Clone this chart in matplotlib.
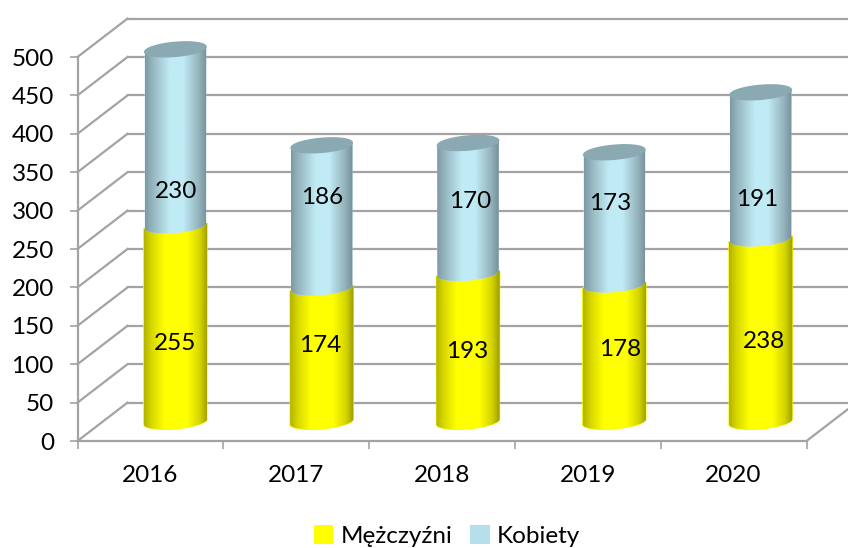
import numpy as np
import matplotlib
matplotlib.use('Agg')
import matplotlib.pyplot as plt
from matplotlib.colors import LinearSegmentedColormap
from matplotlib.patches import Patch, Polygon

years = ['2016', '2017', '2018', '2019', '2020']
men = [255, 174, 193, 178, 238]
women = [230, 186, 170, 173, 191]
y_ticks = [0, 50, 100, 150, 200, 250, 300, 350, 400, 450, 500]

# hand placed data labels in the original, pixels from the top left
men_label_px = [(175, 343), (320, 345), (467, 352), (620, 349), (764, 341)]
women_label_px = [(176, 192), (322, 197), (470, 201), (610, 204), (757, 200)]

plt.rcParams['font.family'] = ['Lato', 'DejaVu Sans']
FS = 17.5
GRID = '#a3a3a3'

W, H = 848, 548
X0, X1, Y0, Y1 = 77.5, 806.5, 441, 57
PX_X = (X1 - X0) / 5
PX_Y = (Y0 - Y1) / 500
DEPTH_X = 50 / PX_X   # depth of the 3d box, data units
DEPTH_Y = 50
BAR_STEP = 1.0035     # bars drift a little from the tick spacing

fig = plt.figure(figsize=(W / 100, H / 100), dpi=100)
ax = fig.add_axes([X0 / W, 1 - Y0 / H, (X1 - X0) / W, (Y0 - Y1) / H])

yellow_map = LinearSegmentedColormap.from_list('y', [(0, '#b4b400'), (0.12, '#d8d800'), (0.32, '#ffff00'), (0.68, '#ffff00'), (0.88, '#d4d400'), (1, '#9c9c00')])
blue_map = LinearSegmentedColormap.from_list('b', [(0, '#7d9aa3'), (0.12, '#96b6bf'), (0.4, '#c0ebf5'), (0.62, '#c0ebf5'), (0.88, '#93b1ba'), (1, '#76909a')])


def ellipse(cx, cy, a, b=7.0, tilt=5.0, t0=0, t1=2 * np.pi):
    # circle seen at an angle, worked out in pixels and returned in data units
    t = np.linspace(t0, t1, 60)
    th = np.radians(tilt)
    ex = a * np.cos(t) * np.cos(th) - b * np.sin(t) * np.sin(th)
    ey = a * np.cos(t) * np.sin(th) + b * np.sin(t) * np.cos(th)
    return cx + ex / PX_X, cy + ey / PX_Y


def cylinder(cx, bottom, top, radius, cmap, edge=None, z=3):
    bx, by = ellipse(cx, bottom, radius, t0=np.pi, t1=2 * np.pi)
    tilt_y = radius * np.sin(np.radians(5)) / PX_Y
    xs = np.r_[bx, cx + radius / PX_X, cx - radius / PX_X]
    ys = np.r_[by, top + tilt_y, top - tilt_y]
    body = Polygon(np.c_[xs, ys], closed=True, facecolor=cmap(0.5), edgecolor=edge or 'none',
                   linewidth=0.8, zorder=z, clip_on=False)
    ax.add_patch(body)
    grad = np.linspace(0, 1, 128).reshape(1, -1)
    im = ax.imshow(grad, cmap=cmap, aspect='auto', zorder=z, interpolation='bilinear',
                   extent=[cx - radius / PX_X, cx + radius / PX_X, bottom - 30, top + 30])
    im.set_clip_path(body)
    im.set_clip_box(fig.bbox)


# back wall and side wall gridlines
x_far = -0.5 + (W + 20 - X0) / PX_X
for v in y_ticks:
    if v > 0:
        ax.plot([-0.5 + DEPTH_X, x_far], [v + DEPTH_Y, v + DEPTH_Y], color=GRID, lw=1.6, zorder=1, clip_on=False)
    ax.plot([-0.5, -0.5 + DEPTH_X], [v, v + DEPTH_Y], color=GRID, lw=1.6, zorder=1, clip_on=False)
ax.plot([-0.5 + DEPTH_X, x_far], [DEPTH_Y, DEPTH_Y], color=GRID, lw=1.6, zorder=1, clip_on=False)
ax.plot([4.5, 4.5 + DEPTH_X], [0, DEPTH_Y], color=GRID, lw=1.6, zorder=1, clip_on=False)

for i in range(len(years)):
    cx = i * BAR_STEP + DEPTH_X / 2
    base = DEPTH_Y / 2
    top_m = base + men[i]
    top_w = top_m + women[i]
    cylinder(cx, base, top_m, 31.7, yellow_map, edge='#f4f400', z=3)
    cylinder(cx, top_m, top_w, 30.8, blue_map, z=4)
    ex, ey = ellipse(cx, top_w, 30.8)
    ax.fill(ex, ey, color='#8ba9b2', zorder=5, clip_on=False)

    for px, val in ((men_label_px[i], men[i]), (women_label_px[i], women[i])):
        ax.text(px[0], H - px[1], str(val), transform=None, fontsize=FS, color='black',
                ha='center', va='center', zorder=6)

ax.set_xlim(-0.5, 4.5)
ax.set_ylim(0, 500)
ax.set_xticks(range(len(years)), years)
ax.set_xticks(np.arange(-0.5, 5), minor=True)
ax.set_yticks(y_ticks)
ax.tick_params(axis='x', which='major', length=0, pad=17.5, labelsize=FS)
ax.tick_params(axis='x', which='minor', length=6, width=1.2, color=GRID)
ax.tick_params(axis='y', length=6, width=1.2, color=GRID, pad=11, labelsize=FS)
ax.patch.set_visible(False)
for s in ['top', 'right']:
    ax.spines[s].set_visible(False)
for s in ['left', 'bottom']:
    ax.spines[s].set_color(GRID)
    ax.spines[s].set_linewidth(1.6)

handles = [Patch(facecolor='#ffff00', label='Mężczyźni'), Patch(facecolor='#b7dfeb', label='Kobiety')]
fig.legend(handles=handles, loc='center', bbox_to_anchor=(447 / W, 1 - 536 / H), ncol=2, frameon=False,
           fontsize=FS, handlelength=0.8, handleheight=0.8, handletextpad=0.3, columnspacing=0.75)

fig.savefig('out.png', dpi=100)
